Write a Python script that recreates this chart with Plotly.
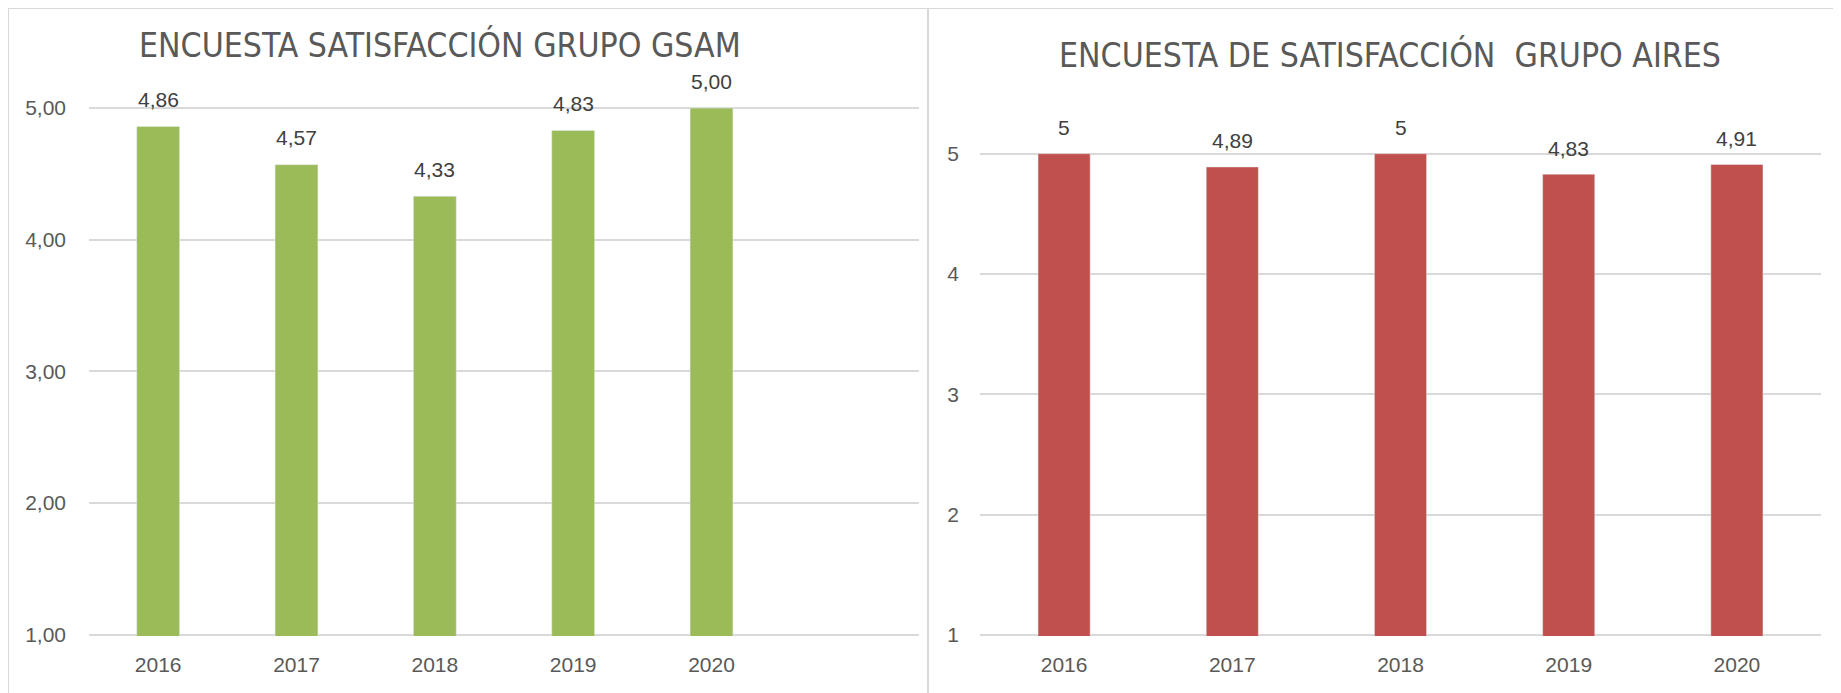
import plotly.graph_objects as go

years = ["2016", "2017", "2018", "2019", "2020"]
gsam_values = [4.86, 4.57, 4.33, 4.83, 5.00]
gsam_labels = ["4,86", "4,57", "4,33", "4,83", "5,00"]
aires_values = [5, 4.89, 5, 4.83, 4.91]
aires_labels = ["5", "4,89", "5", "4,83", "4,91"]
gsam_ticks = [1, 2, 3, 4, 5]
gsam_ticktext = ["1,00", "2,00", "3,00", "4,00", "5,00"]
aires_ticks = [1, 2, 3, 4, 5]
aires_ticktext = ["1", "2", "3", "4", "5"]
title_left = "ENCUESTA SATISFACCIÓN GRUPO GSAM"
title_right = "ENCUESTA DE SATISFACCIÓN  GRUPO AIRES"

# the page body has an 8px margin: the figure is drawn at (8, 8)
OFF = 8
W, H = 1841 - OFF, 693 - OFF
GREEN = "#9BBB59"
RED = "#C0504D"
GRID = "#D9D9D9"
TICK = "#595959"
LABEL = "#404040"
BODY = "Liberation Sans, Arial, sans-serif"
TITLEF = "Liberation Sans Narrow, Arial Narrow, DejaVu Sans Condensed, sans-serif"


def px_x(p):
    return (p - OFF) / W


def px_y(p):
    return 1 - (p - OFF) / H


fig = go.Figure()
fig.add_trace(go.Bar(x=years, y=gsam_values, marker_color=GREEN, width=0.31,
                     xaxis="x", yaxis="y", hoverinfo="skip"))
fig.add_trace(go.Bar(x=years, y=aires_values, marker_color=RED, width=0.31,
                     xaxis="x2", yaxis="y2", hoverinfo="skip"))

annotations = []
for i, (v, t) in enumerate(zip(gsam_values, gsam_labels)):
    annotations.append(dict(x=i, y=v, xref="x", yref="y", text=t, showarrow=False,
                            yanchor="middle", yshift=27,
                            font=dict(family=BODY, size=21, color=LABEL)))
for i, (v, t) in enumerate(zip(aires_values, aires_labels)):
    annotations.append(dict(x=i, y=v, xref="x2", yref="y2", text=t, showarrow=False,
                            yanchor="middle", yshift=26,
                            font=dict(family=BODY, size=21, color=LABEL)))
annotations.append(dict(x=px_x(440), y=px_y(45), xref="paper", yref="paper",
                        text=title_left, showarrow=False, xanchor="center", yanchor="middle",
                        font=dict(family=TITLEF, size=33.5, color=TICK)))
annotations.append(dict(x=px_x(1390), y=px_y(55), xref="paper", yref="paper",
                        text=title_right.replace("  ", " \u00a0"), showarrow=False,
                        xanchor="center", yanchor="middle",
                        font=dict(family=TITLEF, size=33.5, color=TICK)))

shapes = [
    dict(type="line", xref="paper", yref="paper", x0=0, x1=1, y0=1, y1=1,
         line=dict(color=GRID, width=2)),
    dict(type="line", xref="paper", yref="paper", x0=0, x1=0, y0=1, y1=0,
         line=dict(color=GRID, width=2)),
    dict(type="line", xref="paper", yref="paper", x0=px_x(928), x1=px_x(928), y0=1, y1=0,
         line=dict(color=GRID, width=2)),
]

axis_common = dict(showline=False, zeroline=False, ticks="", automargin=False,
                   tickfont=dict(family=BODY, size=21, color=TICK), fixedrange=True)

fig.update_layout(
    width=W, height=H,
    margin=dict(l=0, r=0, t=0, b=0, pad=0),
    paper_bgcolor="white", plot_bgcolor="white",
    showlegend=False,
    annotations=annotations,
    shapes=shapes,
    xaxis=dict(domain=[px_x(89), px_x(919)], type="category", categoryarray=years,
               range=[-0.5, 5.5], showgrid=False, anchor="y", ticklabelstandoff=14, **axis_common),
    yaxis=dict(domain=[px_y(636), px_y(106.7)], range=[0.99, 5.01], tickvals=gsam_ticks,
               ticktext=gsam_ticktext, showgrid=True, gridcolor=GRID, gridwidth=2,
               anchor="x", ticklabelstandoff=22, **axis_common),
    xaxis2=dict(domain=[px_x(980), px_x(1821)], type="category", categoryarray=years,
                range=[-0.5, 4.5], showgrid=False, anchor="y2", ticklabelstandoff=14, **axis_common),
    yaxis2=dict(domain=[px_y(636), px_y(152.5)], range=[0.99, 5.01], tickvals=aires_ticks,
                ticktext=aires_ticktext, showgrid=True, gridcolor=GRID, gridwidth=2,
                anchor="x2", ticklabelstandoff=20, **axis_common),
)

fig.write_html("out.html", config={"displayModeBar": False})
